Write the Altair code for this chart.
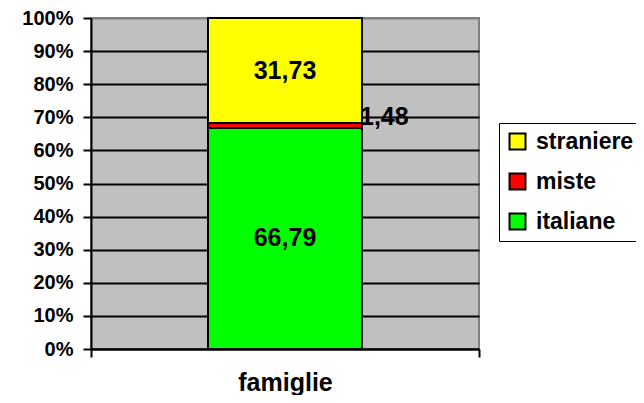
import altair as alt
import pandas as pd

# ---- data ----
group = "famiglie"
categories = ["italiane", "miste", "straniere"]
values = [66.79, 1.48, 31.73]
stack_order = [0, 1, 2]
legend_order = ["straniere", "miste", "italiane"]
legend_colors = ["#FFFF00", "#FF0000", "#00FF00"]
tick_values = [0, 0.1, 0.2, 0.3, 0.4, 0.5, 0.6, 0.7, 0.8, 0.9, 1.0]

df = pd.DataFrame({"cat": group, "tipo": categories, "val": values, "ord": stack_order})

FONT = "Liberation Sans"
BAR_W = 154

base = alt.Chart(df).transform_calculate(
    frac="datum.val / 100",
    label="replace(format(datum.val, '.2f'), '.', ',')",
)

x_axis = alt.Axis(
    labels=False, title=group, tickBand="extent", tickSize=8, tickWidth=2,
    tickColor="black", domainColor="black", domainWidth=2, grid=False,
    titleFontSize=25, titleFontWeight="bold", titleColor="black", titlePadding=12,
)
x_scale = alt.Scale(paddingInner=0, paddingOuter=0)
y_scale = alt.Scale(domain=[0, 1])
y_axis = alt.Axis(
    values=tick_values, format=".0%", title=None, labelOverlap=False,
    labelFontSize=20, labelFontWeight="bold", labelColor="black", labelPadding=10,
    tickSize=8, tickWidth=2, tickColor="black",
    domainColor="black", domainWidth=2,
    grid=True, gridWidth=2,
    gridColor=alt.condition("datum.value >= 1", alt.value("#808080"), alt.value("black")),
)

bars = base.mark_bar(stroke="black", strokeWidth=2, size=BAR_W).encode(
    x=alt.X("cat:N", scale=x_scale, axis=x_axis),
    y=alt.Y("frac:Q", stack="zero", scale=y_scale, axis=y_axis),
    color=alt.Color(
        "tipo:N",
        scale=alt.Scale(domain=legend_order, range=legend_colors),
        legend=alt.Legend(
            title=None, orient="none", legendX=408, legendY=105,
            symbolType="square", symbolSize=256, symbolStrokeColor="black",
            symbolStrokeWidth=2, symbolOpacity=1,
            labelFontSize=23, labelFontWeight="bold", labelColor="black",
            labelOffset=7, rowPadding=15, padding=7,
            strokeColor="black", fillColor="white",
        ),
    ),
    order=alt.Order("ord:Q"),
)

stacked = base.transform_stack(
    stack="frac", groupby=["cat"], sort=[alt.SortField("ord")], as_=["y0", "y1"]
).transform_calculate(mid="(datum.y0 + datum.y1) / 2")

inside = stacked.transform_filter("datum.tipo != 'miste'").mark_text(
    fontSize=25, fontWeight="bold", color="black", baseline="middle"
).encode(
    x=alt.X("cat:N", scale=x_scale, axis=x_axis),
    y=alt.Y("mid:Q", scale=y_scale, axis=y_axis),
    text="label:N",
)

outside = stacked.transform_filter("datum.tipo == 'miste'").mark_text(
    fontSize=25, fontWeight="bold", color="black", baseline="middle",
    align="left", dx=BAR_W / 2 - 2, dy=-8,
).encode(
    x=alt.X("cat:N", scale=x_scale, axis=x_axis),
    y=alt.Y("mid:Q", scale=y_scale, axis=y_axis),
    text="label:N",
)

chart = alt.layer(bars, outside, inside).properties(
    width=388, height=331,
    autosize=alt.AutoSizeParams(type="none"),
    padding={"left": 83, "top": 10, "right": 157, "bottom": 46},
).configure(font=FONT).configure_view(
    fill="#C0C0C0", stroke="#808080", strokeWidth=2
)

chart.save("out.html", embed_options={"renderer": "svg", "actions": False})
